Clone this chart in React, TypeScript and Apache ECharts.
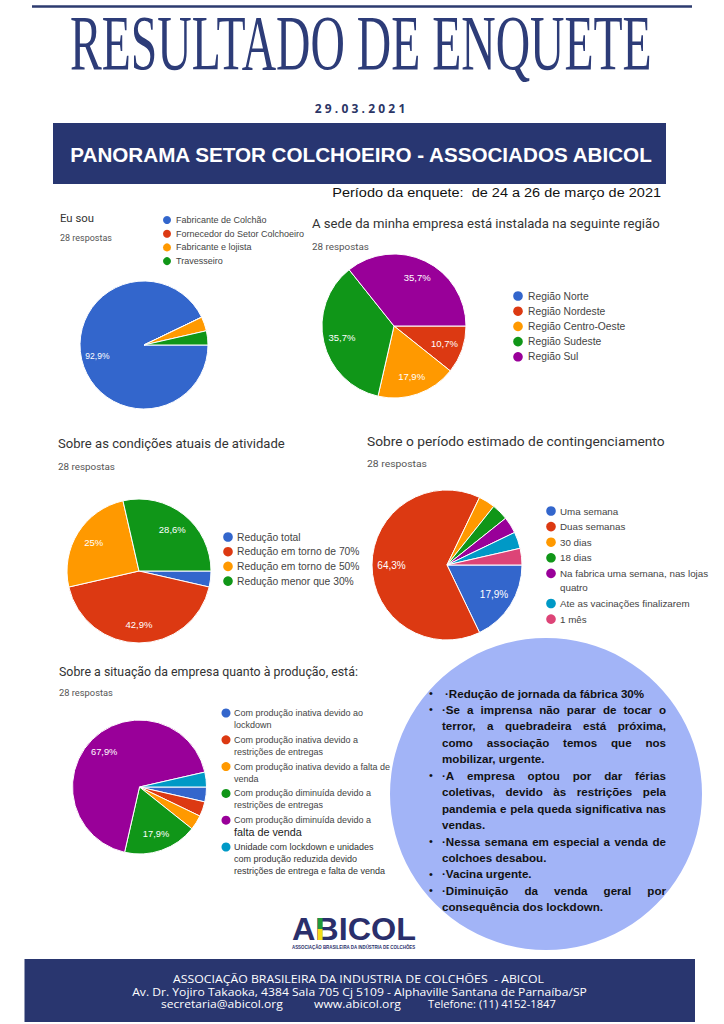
import React, { useEffect, useRef } from 'react';
import * as echarts from 'echarts';

// ---------- DATA ----------
const PALETTE = ['#3366cc', '#dc3912', '#ff9900', '#109618', '#990099', '#0099c6', '#dd4477'];

const euSouCategories = ['Fabricante de Colchão', 'Fornecedor do Setor Colchoeiro', 'Fabricante e lojista', 'Travesseiro'];
const euSouValues = [26, 0, 1, 1];

const regiaoCategories = ['Região Norte', 'Região Nordeste', 'Região Centro-Oeste', 'Região Sudeste', 'Região Sul'];
const regiaoValues = [0, 3, 5, 10, 10];

const atividadeCategories = ['Redução total', 'Redução em torno de 70%', 'Redução em torno de 50%', 'Redução menor que 30%'];
const atividadeValues = [1, 12, 7, 8];

const contingCategories = ['Uma semana', 'Duas semanas', '30 dias', '18 dias', 'Na fabrica uma semana, nas lojas quatro', 'Ate as vacinações finalizarem', '1 mês'];
const contingValues = [5, 18, 1, 1, 1, 1, 1];
const contingLegendLines = [['Uma semana'], ['Duas semanas'], ['30 dias'], ['18 dias'], ['Na fabrica uma semana, nas lojas', 'quatro'], ['Ate as vacinações finalizarem'], ['1 mês']];

const producaoCategories = [
  'Com produção inativa devido ao lockdown',
  'Com produção inativa devido a restrições de entregas',
  'Com produção inativa devido a falta de venda',
  'Com produção diminuída devido a restrições de entregas',
  'Com produção diminuída devido a falta de venda',
  'Unidade com lockdown e unidades com produção reduzida devido restrições de entrega e falta de venda',
];
const producaoValues = [1, 1, 1, 5, 19, 1];
const producaoLegendLines = [
  ['Com produção inativa devido ao', 'lockdown'],
  ['Com produção inativa devido a', 'restrições de entregas'],
  ['Com produção inativa devido a falta de', 'venda'],
  ['Com produção diminuída devido a', 'restrições de entregas'],
  ['Com produção diminuída devido a', 'falta de venda'],
  ['Unidade com lockdown e unidades', 'com produção reduzida devido', 'restrições de entrega e falta de venda'],
];

const comentarios = [
  ['·Redução de jornada da fábrica 30%'],
  ['·Se a imprensa não parar de tocar o', 'terror, a quebradeira está próxima,', 'como associação temos que nos', 'mobilizar, urgente.'],
  ['·A empresa optou por dar férias', 'coletivas, devido às restrições pela', 'pandemia e pela queda significativa nas', 'vendas.'],
  ['·Nessa semana em especial a venda de', 'colchoes desabou.'],
  ['·Vacina urgente.'],
  ['·Diminuição da venda geral por', 'consequência dos lockdown.'],
];

const tituloPrincipal = 'RESULTADO DE ENQUETE';
const dataEnquete = '29.03.2021';
const faixaTitulo = 'PANORAMA SETOR COLCHOEIRO - ASSOCIADOS ABICOL';
const periodo = 'Período da enquete:  de 24 a 26 de março de 2021';
const respostas = '28 respostas';
const rodape1 = 'ASSOCIAÇÃO BRASILEIRA DA INDUSTRIA DE COLCHÕES  - ABICOL';
const rodape2 = 'Av. Dr. Yojiro Takaoka, 4384 Sala 705 Cj 5109 - Alphaville Santana de Parnaíba/SP';
const rodape3 = ['secretaria@abicol.org', 'www.abicol.org', 'Telefone: (11) 4152-1847'];

// ---------- HELPERS ----------
let _ctx: CanvasRenderingContext2D | null = null;
function measure(text: string, font: string) {
  if (!_ctx) _ctx = document.createElement('canvas').getContext('2d');
  _ctx!.font = font;
  return _ctx!.measureText(text).width;
}

type TOpt = { size: number; family?: string; weight?: string; fill?: string; align?: string; width?: number; scaleY?: number };
function txt(text: string, x: number, y: number, o: TOpt) {
  const family = o.family || 'Liberation Sans';
  const weight = o.weight || 'normal';
  const font = `${weight} ${o.size}px "${family}"`;
  let scaleX = 1;
  if (o.width) scaleX = o.width / measure(text, font);
  const align = o.align || 'left';
  return {
    type: 'text', x, y, scaleX, scaleY: o.scaleY || 1, silent: true,
    style: {
      text, fontSize: o.size, fontFamily: family, fontWeight: weight, fill: o.fill || '#000',
      align, textAlign: align, verticalAlign: 'middle', textVerticalAlign: 'middle',
    },
  };
}

function legendEls(lines: string[][], dotX: number, textX: number, startY: number, step: number, lineH: number, size: number, r: number, special?: (i: number, j: number) => Partial<TOpt> | null) {
  const els: any[] = [];
  let y = startY;
  lines.forEach((ls, i) => {
    els.push({ type: 'circle', silent: true, shape: { cx: dotX, cy: y, r }, style: { fill: PALETTE[i] } });
    ls.forEach((l, j) => {
      const sp = special ? special(i, j) : null;
      els.push(txt(l, textX, y + j * lineH, { size: size, fill: '#444', ...(sp || {}) }));
    });
    y += (ls.length - 1) * lineH + step;
  });
  return els;
}

function pieSeries(values: number[], names: string[], cx: number, cy: number, r: number, labelSize: number) {
  const total = values.reduce((a, b) => a + b, 0);
  return [
    {
      type: 'pie', center: [cx, cy], radius: [0, r], startAngle: 0, clockwise: true, silent: true,
      data: values.map((v, i) => ({ value: v, name: names[i], itemStyle: { color: PALETTE[i] } })),
      label: { show: false }, labelLine: { show: false },
      itemStyle: { borderColor: '#ffffff', borderWidth: 1 },
      emphasis: { disabled: true }, z: 2,
    },
    {
      type: 'pie', center: [cx, cy], radius: [r * 0.4, r], startAngle: 0, clockwise: true, silent: true,
      data: values.map((v, i) => ({ value: v, name: names[i] })),
      itemStyle: { color: 'rgba(0,0,0,0)', borderWidth: 0 },
      label: {
        show: true, position: 'inside', color: '#ffffff', fontSize: labelSize, fontFamily: 'Liberation Sans',
        formatter: (p: any) => {
          const pc = (p.value / total) * 100;
          if (pc < 5) return '';
          return String(Math.round(pc * 10) / 10).replace('.', ',') + '%';
        },
      },
      labelLine: { show: false }, emphasis: { disabled: true }, z: 3,
    },
  ];
}

function buildGraphics() {
  const els: any[] = [];
  const navy = '#2d3c78';
  // top rule
  els.push({ type: 'line', silent: true, shape: { x1: 32, y1: 6.5, x2: 692, y2: 6.5 }, style: { stroke: '#2d3b6f', lineWidth: 2.5 } });
  // title (condensed serif: small font stretched vertically, fitted to width)
  els.push(txt(tituloPrincipal, 70, 42, { size: 42, scaleY: 78 / 42, family: 'Liberation Serif', fill: navy, width: 582 }));
  // date with letter spacing
  {
    const size = 12;
    const font = `bold ${size}px "Open Sans"`;
    const ws = dataEnquete.split('').map((c) => measure(c, font));
    const spacing = 3.2;
    const total = ws.reduce((a, b) => a + b, 0) + spacing * (ws.length - 1);
    let x = 360 - total / 2;
    dataEnquete.split('').forEach((c, i) => {
      els.push(txt(c, x, 108, { size, family: 'Open Sans', weight: 'bold', fill: '#2b3566' }));
      x += ws[i] + spacing;
    });
  }
  // banner
  els.push({ type: 'rect', silent: true, shape: { x: 53, y: 123, width: 613, height: 61 }, style: { fill: '#283671' } });
  els.push(txt(faixaTitulo, 361, 155.5, { size: 20, weight: 'bold', fill: '#ffffff', align: 'center', width: 584 }));
  els.push(txt(periodo, 661, 192, { size: 13.5, fill: '#111', align: 'right', width: 329 }));

  // chart titles
  const tFill = '#333';
  els.push(txt('Eu sou', 60, 218, { size: 11.5, family: 'Roboto', fill: tFill, width: 34 }));
  els.push(txt(respostas, 60, 238, { size: 9, family: 'Roboto', fill: '#555', width: 52 }));
  els.push(txt('A sede da minha empresa está instalada na seguinte região', 312, 224, { size: 12.5, family: 'Roboto', fill: tFill, width: 348 }));
  els.push(txt(respostas, 312, 247, { size: 9.5, family: 'Roboto', fill: '#555', width: 57 }));
  els.push(txt('Sobre as condições atuais de atividade', 58, 444, { size: 12.5, family: 'Roboto', fill: tFill, width: 227 }));
  els.push(txt(respostas, 58, 467, { size: 9.5, family: 'Roboto', fill: '#555', width: 57 }));
  els.push(txt('Sobre o período estimado de contingenciamento', 367, 442, { size: 12.5, family: 'Roboto', fill: tFill, width: 298 }));
  els.push(txt(respostas, 367, 464, { size: 9.5, family: 'Roboto', fill: '#555', width: 60 }));
  els.push(txt('Sobre a situação da empresa quanto à produção, está:', 59, 672, { size: 12, family: 'Roboto', fill: tFill, width: 299 }));
  els.push(txt(respostas, 59, 693, { size: 9, family: 'Roboto', fill: '#555', width: 54 }));

  // legends
  els.push(...legendEls(euSouCategories.map((c) => [c]), 167, 176, 220, 13.7, 12, 9, 4));
  els.push(...legendEls(regiaoCategories.map((c) => [c]), 518, 528, 296, 15.2, 12, 10.3, 4.8));
  els.push(...legendEls(atividadeCategories.map((c) => [c]), 228, 237, 537, 14.7, 12, 10.3, 4.8));
  els.push(...legendEls(contingLegendLines, 551, 560, 511, 15.6, 14.5, 9.8, 4.8));
  els.push(...legendEls(producaoLegendLines, 226, 234, 713, 14.8, 12, 9, 4.5, (i, j) => {
    if (i === 4 && j === 1) return { size: 10.8, fill: '#222' };
    if (i === 5) return { size: 9, fill: '#333' };
    return null;
  }));

  // comment circle
  els.push({ type: 'circle', silent: true, shape: { cx: 546, cy: 794, r: 156 }, style: { fill: '#a2b4f7' } });
  {
    const size = 11.6;
    const font = `bold ${size}px "Liberation Sans"`;
    const left = 442, right = 666;
    let y = 693;
    const step = 16.45;
    comentarios.forEach((para, pi) => {
      para.forEach((line, li) => {
        if (li === 0) {
          els.push(txt('•', 429, y, { size: 11, fill: '#111' }));
        }
        const lx = pi === 0 ? left + 3 : left;
        const last = li === para.length - 1;
        if (last) {
          els.push(txt(line, lx, y, { size, weight: 'bold', fill: '#111' }));
        } else {
          const words = line.split(' ');
          const ws = words.map((w) => measure(w, font));
          const sum = ws.reduce((a, b) => a + b, 0);
          const gap = (right - lx - sum) / (words.length - 1);
          let x = lx;
          words.forEach((w, wi) => {
            els.push(txt(w, x, y, { size, weight: 'bold', fill: '#111' }));
            x += ws[wi] + gap;
          });
        }
        y += step;
      });
    });
  }

  // logo
  {
    const size = 31;
    const font = `bold ${size}px "Liberation Sans"`;
    const word = 'ABICOL';
    const sx = 124 / measure(word, font);
    els.push(txt(word, 292, 929, { size, weight: 'bold', fill: '#2a2f6b', width: 124 }));
    const bLeft = 292 + measure('A', font) * sx;
    const stemX = bLeft + 0.073 * size * sx;
    const stemW = 0.15 * size * sx;
    els.push({ type: 'rect', silent: true, shape: { x: stemX, y: 918, width: stemW, height: 11 }, style: { fill: '#1f9a3a' } });
    els.push({ type: 'rect', silent: true, shape: { x: stemX, y: 929, width: stemW, height: 11 }, style: { fill: '#f2dc17' } });
    els.push(txt('ASSOCIAÇÃO BRASILEIRA DA INDÚSTRIA DE COLCHÕES', 292, 947, { size: 4.6, weight: 'bold', fill: '#2a2f6b', width: 124 }));
  }

  // footer
  els.push({ type: 'rect', silent: true, shape: { x: 24.5, y: 959, width: 670.5, height: 63 }, style: { fill: '#29366f' } });
  els.push(txt(rodape1, 358.5, 979, { size: 10, family: 'Open Sans', fill: '#fff', align: 'center', width: 371 }));
  els.push(txt(rodape2, 359.5, 991.5, { size: 10, family: 'Open Sans', fill: '#fff', align: 'center', width: 455 }));
  els.push(txt(rodape3[0], 161, 1004, { size: 10, family: 'Open Sans', fill: '#fff', width: 122 }));
  els.push(txt(rodape3[1], 314, 1004, { size: 10, family: 'Open Sans', fill: '#fff', width: 87 }));
  els.push(txt(rodape3[2], 428, 1004, { size: 10, family: 'Open Sans', fill: '#fff', width: 128 }));
  return els;
}

export default function App() {
  const ref = useRef<HTMLDivElement>(null);
  useEffect(() => {
    if (!ref.current) return;
    const chart = echarts.init(ref.current, null, { renderer: 'svg' });
    const option: any = {
      animation: false,
      backgroundColor: '#ffffff',
      graphic: { elements: buildGraphics() },
      series: [
        ...pieSeries(euSouValues, euSouCategories, 144, 345, 64, 8.5),
        ...pieSeries(regiaoValues, regiaoCategories, 394, 326, 72, 9.5),
        ...pieSeries(atividadeValues, atividadeCategories, 139, 571, 72, 9.5),
        ...pieSeries(contingValues, contingCategories, 447, 565, 75, 10),
        ...pieSeries(producaoValues, producaoCategories, 139.5, 787, 67, 9.3),
      ],
    };
    chart.setOption(option);
    return () => chart.dispose();
  }, []);
  return <div ref={ref} style={{ position: 'absolute', left: 0, top: 0, width: 724, height: 1024 }} />;
}
